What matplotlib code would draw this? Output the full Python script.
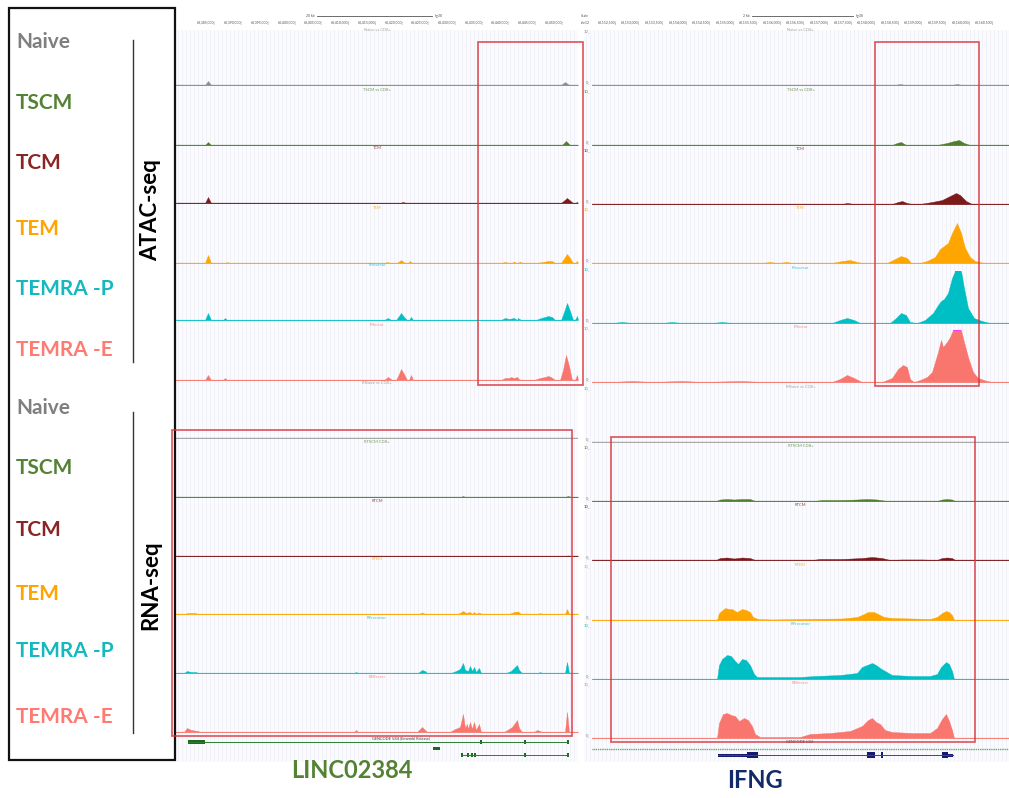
import matplotlib.pyplot as plt
from matplotlib.patches import Rectangle
import numpy as np

W, H = 1009, 798
plt.rcParams['font.family'] = ['Lato', 'DejaVu Sans']

# ---- data -------------------------------------------------------------
cells = ['Naive', 'TSCM', 'TCM', 'TEM', 'TEMRA -P', 'TEMRA -E']
label_colors = ['#7f7f7f', '#548235', '#8b2525', '#ffa500', '#14b9c0', '#ff7a72']
track_colors = ['#8c8c8c', '#4e7f2a', '#7a1a1a', '#ffa500', '#00bfc4', '#f8766d']
base_colors = ['#a8a8a8', '#8fb57a', '#b07070', '#ffc766', '#8ee3e6', '#fbb3ad']
atac_names = ['Naive vs CD8+', 'TSCM vs CD8+', 'TCM', 'TEM', 'Precursor', 'Effector']
rna_names = ['RNaive vs CD8+', 'RTSCM CD8+', 'RTCM', 'RTEM', 'RPrecursor', 'REffector']

# signal as (browser bin, coverage) pairs; left window 402 bins, right 417 bins
atac_left = [
    [(29, 0), (32, 4), (35, 0), (385, 0), (389, 3), (393, 0)],
    [(29, 0), (32, 3), (35, 0), (386, 0), (390, 4), (394, 0)],
    [(29, 0), (32, 6), (35, 0), (224, 0), (227, 1), (230, 0), (385, 0), (391, 5), (397, 0),
     (399, 0), (401, 1)],
    [(29, 0), (32, 8), (35, 0), (49, 0), (51, 1), (53, 0), (208, 0), (211, 1), (214, 0),
     (221, 0), (225, 3), (229, 0), (232, 0), (234, 2), (236, 0), (325, 0), (329, 1), (333, 0),
     (336, 0), (338, 1.5), (340, 0), (342, 0), (344, 1.5), (346, 0), (360, 0), (367, 1),
     (372, 2), (376, 2), (379, 0), (385, 0), (389, 6), (391, 9), (394, 5), (397, 0), (399, 0),
     (401, 2)],
    [(29, 0), (32, 7), (35, 0), (47, 0), (49, 2), (51, 0), (208, 0), (212, 2), (215, 0),
     (220, 0), (223, 4), (225, 7), (228, 3), (231, 0), (233, 0), (235, 3), (237, 0), (325, 0),
     (329, 2), (333, 1), (338, 2), (341, 0), (342, 2), (345, 0), (360, 0), (365, 2), (369, 3),
     (372, 4), (376, 3), (379, 0), (385, 0), (388, 8), (391, 17), (394, 9), (397, 0),
     (399, 0), (401, 4)],
    [(29, 0), (32, 5), (35, 0), (47, 0), (49, 2), (51, 0), (208, 0), (212, 3), (216, 0),
     (220, 0), (223, 6), (225, 11), (228, 6), (231, 0), (233, 0), (235, 5), (237, 0),
     (325, 0), (329, 2), (333, 2), (335, 3), (338, 2), (341, 3), (344, 0), (358, 0), (364, 2),
     (369, 3), (372, 4), (375, 3), (379, 0), (384, 0), (387, 10), (390, 25), (393, 14),
     (396, 0), (399, 0), (401, 5)],
]

atac_right = [
    [(303, 0), (308, 1), (313, 0), (360, 0), (365, 1), (370, 0)],
    [(300, 0), (305, 2), (309, 3), (314, 0), (345, 0), (355, 2), (362, 4), (367, 5), (372, 2),
     (378, 0)],
    [(250, 0), (255, 1), (262, 0), (300, 0), (306, 2), (310, 3), (315, 1), (320, 0), (328, 0),
     (340, 2), (350, 4), (358, 8), (364, 11), (368, 9), (374, 3), (380, 0)],
    [(170, 0), (178, 1), (185, 0), (195, 1), (200, 0), (240, 0), (250, 2), (258, 3), (265, 1),
     (270, 0), (295, 0), (303, 4), (309, 7), (315, 5), (319, 0), (328, 0), (335, 2), (343, 6),
     (348, 14), (352, 17), (356, 20), (360, 30), (365, 40), (369, 30), (373, 15), (378, 6),
     (383, 2), (392, 0)],
    [(20, 0), (30, 1), (40, 0), (70, 0), (80, 1), (90, 0), (120, 0), (130, 1), (140, 0),
     (240, 0), (248, 3), (255, 5), (262, 3), (268, 0), (298, 0), (304, 5), (309, 10),
     (314, 8), (318, 1), (325, 0), (333, 3), (341, 10), (346, 18), (349, 22), (352, 24),
     (356, 30), (360, 45), (363, 52), (369, 52), (372, 35), (376, 15), (382, 5), (390, 2),
     (398, 0)],
    [(20, 0), (40, 1), (60, 0), (90, 1), (110, 0), (150, 1), (170, 0), (240, 0), (248, 3),
     (255, 7), (262, 4), (270, 0), (290, 0), (300, 4), (306, 13), (311, 17), (315, 15),
     (318, 3), (322, 0), (328, 2), (335, 5), (340, 10), (346, 30), (349, 42), (351, 35),
     (355, 40), (358, 45), (361, 52), (369, 52), (372, 40), (376, 25), (381, 10), (386, 4),
     (395, 1), (400, 0)],
]

rna_left = [
    [],
    [(285, 0), (287, 1), (289, 0), (389, 0), (392, 1), (395, 0)],
    [(389, 0), (392, 0.5), (395, 0)],
    [(8, 0), (12, 1), (19, 1), (22, 0), (243, 0), (246, 1.5), (249, 0), (282, 0), (287, 3),
     (290, 1), (294, 2), (296, 0), (298, 2), (300, 0), (303, 1.5), (306, 0), (333, 0),
     (338, 2), (342, 2.5), (345, 0), (362, 0), (364, 1), (366, 0), (389, 0), (391, 5),
     (393, 0)],
    [(8, 0), (11, 2), (15, 1), (20, 1), (22, 0), (178, 0), (180, 1), (182, 0), (242, 0),
     (246, 3), (249, 2), (251, 0), (275, 0), (280, 2), (284, 4), (287, 10), (289, 3),
     (292, 2), (294, 7), (296, 2), (298, 6), (300, 1), (303, 5), (305, 0), (330, 0), (335, 2),
     (338, 5), (341, 8), (343, 3), (346, 0), (362, 0), (364, 1), (366, 0), (389, 0),
     (391, 11), (393, 0)],
    [(8, 0), (11, 4), (15, 2), (22, 1), (24, 0), (178, 0), (180, 2), (182, 0), (241, 0),
     (244, 3), (246, 5), (249, 2), (251, 0), (274, 0), (279, 3), (284, 5), (287, 18),
     (289, 4), (291, 8), (292, 3), (294, 10), (296, 3), (298, 10), (300, 2), (303, 8),
     (305, 0), (328, 0), (333, 3), (336, 5), (339, 9), (341, 12), (343, 4), (346, 0),
     (358, 0), (361, 2), (364, 1), (366, 0), (389, 0), (391, 20), (393, 0)],
]

rna_right = [
    [],
    [(124, 0), (128, 1.5), (135, 2), (142, 1.5), (150, 2), (158, 2), (163, 0), (222, 0),
     (230, 1), (250, 1), (265, 1.5), (275, 2), (285, 1.5), (295, 0), (345, 0), (350, 1.5),
     (355, 2), (360, 1.5), (363, 0)],
    [(124, 0), (128, 2), (135, 2.5), (142, 1.5), (150, 2.5), (158, 2), (163, 0), (220, 0),
     (228, 1), (250, 1), (270, 2), (280, 3), (290, 2), (298, 0), (310, 0.5), (330, 0.5),
     (345, 0), (350, 2), (355, 2.5), (360, 2), (363, 0)],
    [(125, 0), (127, 7), (133, 12), (137, 11), (140, 11), (145, 8), (150, 11), (154, 10),
     (158, 8), (161, 3), (166, 1), (180, 0.5), (210, 1), (250, 1.5), (265, 3), (272, 6),
     (276, 8), (282, 8), (288, 5), (292, 3), (300, 2), (320, 1.5), (338, 1), (345, 3),
     (350, 7), (354, 9), (357, 8), (360, 5), (362, 0)],
    [(125, 0), (127, 14), (130, 20), (135, 24), (139, 23), (143, 18), (146, 15), (150, 20),
     (154, 19), (158, 14), (162, 5), (165, 2), (180, 2), (208, 2), (223, 3), (248, 4),
     (265, 6), (270, 12), (275, 14), (280, 16), (284, 14), (288, 11), (293, 8), (300, 4),
     (320, 3), (338, 3), (345, 5), (349, 12), (354, 17), (357, 15), (360, 8), (362, 0)],
    [(125, 0), (127, 15), (131, 24), (135, 25), (139, 23), (143, 22), (147, 17), (152, 20),
     (156, 18), (160, 12), (163, 4), (168, 1), (208, 1), (218, 4), (238, 5), (258, 7),
     (270, 12), (276, 18), (280, 20), (284, 16), (288, 14), (293, 8), (300, 6), (320, 5),
     (338, 5), (345, 10), (350, 19), (354, 24), (357, 17), (360, 8), (362, 0)],
]

left_ticks = [68385000 + 5000 * i for i in range(14)]
right_ticks = [68152500 + 500 * i for i in range(17)]
left_window = (68377556, 68452756)
right_window = (68151987, 68160827)

# gene models (bins): LINC02384 left, IFNG right
linc_exons = [(12, 29)]
linc_extra = [(257, 264)]
linc_iso2 = [286, 292, 296, 299, 349, 392]
ifng_utr = [(126, 155), (356, 361)]
ifng_cds = [(155, 166), (275, 283), (289, 291), (350, 356)]

# ---- layout (pixels) ---------------------------------------------------
L_X = (176, 578)
R_X = (592, 1009)
atac_base = {'L': [85, 145, 203, 263, 320, 380], 'R': [85, 145, 204, 263, 323, 382]}
rna_base = {'L': [438, 497, 556, 614, 673, 732], 'R': [442, 501, 560, 620, 679, 738]}
NB = {'L': 402, 'R': 417}
TRACK_H = 58
CLIP = 52

fig = plt.figure(figsize=(W / 100, H / 100), dpi=100)


def px_axes(x0, y0, x1, y1):
    ax = fig.add_axes([x0 / W, 1 - y1 / H, (x1 - x0) / W, (y1 - y0) / H])
    ax.set_axis_off()
    return ax


# background with browser grid
for side, (x0, x1) in (('L', L_X), ('R', (584, 1009))):
    bg = px_axes(x0, 30, x1, 762)
    bg.set_axis_on()
    bg.set_facecolor('#fbfbfe')
    for s in bg.spines.values():
        s.set_visible(False)
    bg.set_xticks([])
    bg.set_yticks([])
    bg.set_xlim(0, x1 - x0)
    for gx in np.arange(2, x1 - x0, 4):
        bg.axvline(gx, color='#ededf7', lw=0.5)


def draw_track(side, base, pts, ci, name, clip=None):
    x0, x1 = L_X if side == 'L' else R_X
    ax = px_axes(x0, base - TRACK_H, x1, base + 1)
    nb = NB[side]
    ax.set_xlim(0, nb)
    ax.set_ylim(-1, TRACK_H)
    xs = [0] + [p[0] for p in pts] + [nb]
    ys = np.array([0] + [p[1] for p in pts] + [0], dtype=float)
    ax.axhline(0, color=base_colors[ci], lw=1.0, zorder=1)
    if len(pts):
        ax.fill_between(xs, 0, np.minimum(ys, CLIP), color=track_colors[ci], lw=0.3,
                        zorder=2)
        if clip is not None and ys.max() >= CLIP:
            ax.fill_between(xs, CLIP - 1.2, CLIP, where=ys >= CLIP, color='#ff33ff', lw=0,
                            zorder=3)
    ax.text(nb / 2, TRACK_H - 3, name, fontsize=3, color=track_colors[ci], ha='center',
            va='center', alpha=0.8)
    if side == 'R':
        ax.text(-2, 0.5, '0_', fontsize=3, color='#777777', ha='right', va='bottom')
        ax.text(-2, TRACK_H - 4, '10_', fontsize=3, color=track_colors[ci], ha='right',
                va='center')
    return ax


for side, atac, rna in (('L', atac_left, rna_left), ('R', atac_right, rna_right)):
    for i in range(6):
        draw_track(side, atac_base[side][i], atac[i], i, atac_names[i], clip=True)
        draw_track(side, rna_base[side][i], rna[i], i, rna_names[i], clip=True)

# ruler: UCSC style, label ends with '|' at the tick position
for (x0, x1), win, ticks in ((L_X, left_window, left_ticks), (R_X, right_window, right_ticks)):
    rax = px_axes(x0, 20, x1, 26)
    rax.set_xlim(*win)
    rax.set_ylim(0, 1)
    for t in ticks:
        rax.text(t, 0.5, f'{t:,}|', fontsize=2.5, color='#555555', ha='right', va='center')

# gene tracks
gl = px_axes(L_X[0], 738, L_X[1], 760)
gl.set_xlim(0, NB['L'])
gl.set_ylim(22, 0)
gl.plot([linc_exons[0][0], linc_iso2[-1]], [4, 4], color='#2e7d32', lw=0.7)
for a, b in linc_exons:
    gl.add_patch(Rectangle((a, 2), b - a, 4, color='#1b6b1f', lw=0))
for a, b in linc_extra:
    gl.add_patch(Rectangle((a, 9), b - a, 3, color='#1b6b1f', lw=0))
gl.plot([linc_iso2[0], linc_iso2[-1]], [17, 17], color='#2e7d32', lw=0.7)
for b in linc_iso2:
    gl.add_patch(Rectangle((b - 0.8, 15), 1.6, 4, color='#1b6b1f', lw=0))
for b in (305, 349, 392):
    gl.add_patch(Rectangle((b - 0.8, 2), 1.6, 4, color='#1b6b1f', lw=0))
gl.text(225, 0.5, 'GENCODE V44 (Ensembl Release)', fontsize=2.8, color='#444444',
        ha='center', va='center')

gr = px_axes(R_X[0], 738, R_X[1], 760)
gr.set_xlim(0, NB['R'])
gr.set_ylim(22, 0)
gr.plot([-8, NB['R']], [11, 11], color='#6aa86a', lw=1.0, ls=(0, (1, 0.6)))
gr.plot([ifng_utr[0][0], ifng_utr[-1][1]], [17, 17], color='#3b3fa0', lw=0.7)
for a, b in ifng_utr:
    gr.add_patch(Rectangle((a, 15.5), b - a, 3, color='#141a6e', lw=0))
for a, b in ifng_cds:
    gr.add_patch(Rectangle((a, 14), b - a, 6, color='#141a6e', lw=0))
gr.add_patch(Rectangle((-9, 14), 8, 6, color='#141a6e', lw=0))
gr.text(208, 4, 'GENCODE V44', fontsize=2.8, color='#444444', ha='center', va='center')

# ---- annotation overlay -------------------------------------------------
ov = fig.add_axes([0, 0, 1, 1], zorder=10)
ov.set_xlim(0, W)
ov.set_ylim(H, 0)
ov.set_axis_off()
ov.patch.set_alpha(0)

ov.add_patch(Rectangle((9, 8), 166, 752, fill=False, ec='#111111', lw=1.6))

atac_label_y = [42, 103, 163, 229, 289, 350]
rna_label_y = [408, 468, 530, 594, 651, 717]
for i, c in enumerate(cells):
    ov.text(16, atac_label_y[i], c, color=label_colors[i], fontsize=15, fontweight='bold',
            ha='left', va='center')
    ov.text(16, rna_label_y[i], c, color=label_colors[i], fontsize=15, fontweight='bold',
            ha='left', va='center')

ov.plot([133, 133], [40, 362], color='#333333', lw=1.0)
ov.plot([133, 133], [412, 733], color='#333333', lw=1.0)
ov.text(151, 210, 'ATAC-seq', rotation=90, fontsize=16, fontweight='bold', ha='center',
        va='center', color='black')
ov.text(151, 585, 'RNA-seq', rotation=90, fontsize=16, fontweight='bold', ha='center',
        va='center', color='black')

# scale bars
ov.plot([317, 432], [16, 16], color='#555555', lw=0.6)
ov.text(315, 16, '20 kb', fontsize=2.5, color='#555555', ha='right', va='center')
ov.text(435, 16, 'hg38', fontsize=2.5, color='#555555', ha='left', va='center')
ov.plot([752, 853], [16, 16], color='#555555', lw=0.6)
ov.text(750, 16, '2 kb', fontsize=2.5, color='#555555', ha='right', va='center')
ov.text(856, 16, 'hg38', fontsize=2.5, color='#555555', ha='left', va='center')
ov.text(581, 16, 'Scale', fontsize=2.5, color='#555555', ha='left', va='center')
ov.text(581, 23, 'chr12', fontsize=2.5, color='#555555', ha='left', va='center')

# highlight boxes
red = '#d8343c'
for x, y, w, h in ((478, 42, 105, 343), (875, 42, 104, 344), (172, 430, 400, 306),
                   (611, 437, 364, 305)):
    ov.add_patch(Rectangle((x, y), w, h, fill=False, ec=red, lw=1.2, alpha=0.85))

ov.text(352, 770, 'LINC02384', color='#548235', fontsize=17, fontweight='bold', ha='center',
        va='center')
ov.text(755, 781, 'IFNG', color='#132a68', fontsize=17, fontweight='bold', ha='center',
        va='center')

fig.savefig('out.png', dpi=100)
